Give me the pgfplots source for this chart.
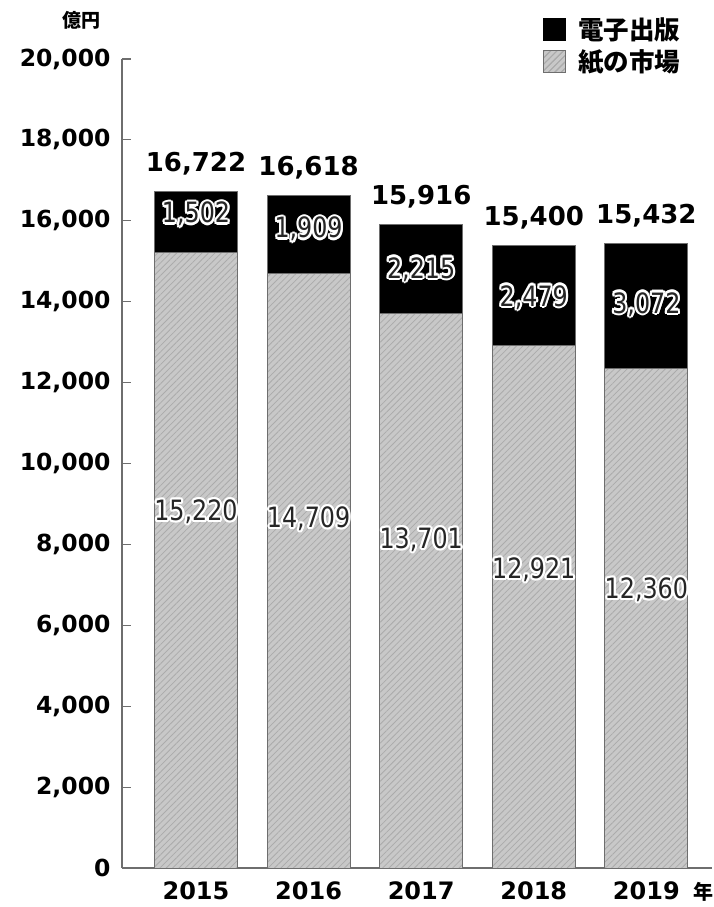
\documentclass[border=0pt]{standalone}
\usepackage{pgfplots}
\pgfplotsset{compat=1.18}
\usetikzlibrary{patterns.meta}
\usepackage{fontspec}
\setmainfont{DejaVu Sans}
\newfontfamily\cjk{Noto Sans CJK JP}
\newfontfamily\lblfont{DejaVu Sans}[FakeStretch=0.85]
\definecolor{paper}{HTML}{C8C8C8}
\definecolor{hatch}{HTML}{ABABAB}
\definecolor{axisgray}{HTML}{6E6E6E}

% values (units: 億円)
\pgfplotstableread{
x paper digital
0 15220 1502
1 14709 1909
2 13701 2215
3 12921 2479
4 12360 3072
}\sales

\begin{document}
\begin{tikzpicture}
\useasboundingbox (-122pt,-39pt) rectangle (591pt,868pt);
\begin{axis}[
  at={(0,0)}, anchor=south west,
  scale only axis, width=590pt, height=809pt,
  xmin=-0.657, xmax=4.583, ymin=0, ymax=20000,
  axis x line=bottom, axis y line=left,
  axis line style={axisgray, line width=1.5pt, -},
  ytick={0,2000,...,20000}, scaled y ticks=false,
  tick align=inside, major tick length=9pt,
  ytick style={axisgray, line width=1.2pt},
  xtick={0,1,2,3,4}, xticklabels={2015,2016,2017,2018,2019},
  xtick style={draw=none},
  /pgf/number format/assume math mode=true,
  yticklabel style={font=\bfseries\fontsize{23.5}{23.5}\selectfont, xshift=-8pt,
    /pgf/number format/1000 sep={,}},
  xticklabel style={font=\bfseries\fontsize{24}{24}\selectfont, yshift=-10pt},
  ybar stacked, bar width=83pt,
  reverse legend,
  legend style={at={(0.714,1.054)}, anchor=north west, draw=none, fill=none,
    inner sep=0pt, row sep=5pt, column sep=10pt,
    font=\cjk\bfseries\fontsize{25.5}{25.5}\selectfont,
    nodes={inner sep=2pt}},
  clip=false,
]
\addplot[draw=axisgray, line width=1pt, fill=paper,
  postaction={pattern={Lines[angle=45,distance=4.5pt,line width=0.8pt]}, pattern color=hatch},
  legend image code/.code={\fill[paper] (0pt,-11pt) rectangle (22pt,11pt);
    \fill[pattern={Lines[angle=45,distance=4.5pt,line width=0.8pt]}, pattern color=hatch] (0pt,-11pt) rectangle (22pt,11pt);}]
  table[x=x, y=paper] {\sales};
\addlegendentry{紙の市場}
\addplot[draw=axisgray, line width=1pt, fill=black,
  legend image code/.code={\fill[black] (0pt,-11pt) rectangle (22pt,11pt);}]
  table[x=x, y=digital] {\sales};
\addlegendentry{電子出版}

% totals above the bars
\node[anchor=base, yshift=20pt, font=\bfseries\fontsize{26}{26}\selectfont] at (axis cs:0,16722) {16,722};
\node[anchor=base, yshift=20pt, font=\bfseries\fontsize{26}{26}\selectfont] at (axis cs:1,16618) {16,618};
\node[anchor=base, yshift=20pt, font=\bfseries\fontsize{26}{26}\selectfont] at (axis cs:2,15916) {15,916};
\node[anchor=base, yshift=20pt, font=\bfseries\fontsize{26}{26}\selectfont] at (axis cs:3,15400) {15,400};
\node[anchor=base, yshift=20pt, font=\bfseries\fontsize{26}{26}\selectfont] at (axis cs:4,15432) {15,432};

% anchor points for the segment labels
\coordinate (d0) at (axis cs:0,16163);
\coordinate (d1) at (axis cs:1,15792);
\coordinate (d2) at (axis cs:2,14802);
\coordinate (d3) at (axis cs:3,14109);
\coordinate (d4) at (axis cs:4,13936);
\coordinate (p0) at (axis cs:0,8812);
\coordinate (p1) at (axis cs:1,8639);
\coordinate (p2) at (axis cs:2,8119);
\coordinate (p3) at (axis cs:3,7376);
\coordinate (p4) at (axis cs:4,6881);
\end{axis}

% segment labels with a white halo
\foreach \c/\t in {d0/{1,502},d1/{1,909},d2/{2,215},d3/{2,479},d4/{3,072},
                   p0/{15,220},p1/{14,709},p2/{13,701},p3/{12,921},p4/{12,360}}{
  \foreach \a in {0,30,...,330}
    \node[white, font=\lblfont\fontsize{28}{28}\selectfont] at ([shift={(\a:2.2pt)}]\c) {\t};
  \node[black!85, font=\lblfont\fontsize{28}{28}\selectfont] at (\c) {\t};
}

% unit and year suffix
\node[font=\cjk\bfseries\fontsize{19}{19}\selectfont] at (-40pt,848pt) {億円};
\node[font=\cjk\bfseries\fontsize{20}{20}\selectfont, anchor=west] at (568pt,-24pt) {年};
\end{tikzpicture}
\end{document}
